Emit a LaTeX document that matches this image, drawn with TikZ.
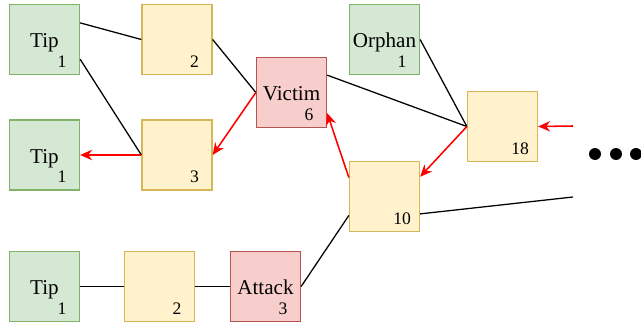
\documentclass[tikz,border=0pt]{standalone}
\usepackage{fontspec}
\setmainfont{Liberation Serif}
\usetikzlibrary{arrows.meta}
\definecolor{tipfill}{HTML}{D5E8D4}
\definecolor{tipline}{HTML}{82B366}
\definecolor{hopfill}{HTML}{FFF2CC}
\definecolor{hopline}{HTML}{D6B656}
\definecolor{badfill}{HTML}{F8CECC}
\definecolor{badline}{HTML}{B85450}

\begin{document}
\begin{tikzpicture}[x=0.025cm,y=-0.025cm,
  blk/.style={rectangle,draw,line width=0.9pt,minimum size=1.75cm,inner sep=0pt,text height=12pt,text depth=0pt,font=\rmfamily\fontsize{15}{17}\selectfont},
  tip/.style={blk,fill=tipfill,draw=tipline},
  hop/.style={blk,fill=hopfill,draw=hopline},
  bad/.style={blk,fill=badfill,draw=badline},
  num/.style={label={[anchor=center,label distance=0pt,xshift=-0.45cm,yshift=0.34cm,text height=,text depth=,font=\rmfamily\fontsize{12.5}{14}\selectfont]south east:#1}},
  link/.style={line width=0.9pt},
  bad link/.style={line width=1.1pt,red,-{Stealth[length=3mm,width=2.6mm]}}]
  \useasboundingbox (0,0) rectangle (641,329);

  \node[tip,num=1] (tipA) at (44.5,39.5) {Tip};
  \node[hop,num=2] (hopA) at (177,39.5) {};
  \node[tip,num=1] (tipB) at (44.5,155) {Tip};
  \node[hop,num=3] (hopB) at (177,155) {};
  \node[bad,num=6] (victim) at (291.5,92.5) {Victim};
  \node[tip,num=1] (orphan) at (384.5,39.5) {Orphan};
  \node[hop,num=18] (hopC) at (502.5,126.5) {};
  \node[hop,num=10] (hopD) at (384.5,196.5) {};
  \node[tip,num=1] (tipC) at (44.5,286.5) {Tip};
  \node[hop,num=2] (hopE) at (159.5,286.5) {};
  \node[bad,num=3] (attack) at (265.5,286.5) {Attack};

  \coordinate (inC) at (573,126);
  \coordinate (outD) at (573,197);

  \draw[link] (tipA.25) -- (hopA.west);
  \draw[link] (tipA.-29) -- (hopB.west);
  \draw[link] (hopA.east) -- (victim.west);
  \draw[link] (victim.26) -- (hopC.west);
  \draw[link] (orphan.east) -- (hopC.west);
  \draw[link] (hopD.-152) -- (attack.east);
  \draw[link] (hopD.-26) -- (outD);
  \draw[link] (tipC.east) -- (hopE.west);
  \draw[link] (hopE.east) -- (attack.west);

  \draw[bad link] (victim.west) -- (hopB.east);
  \draw[bad link] (hopB.west) -- (tipB.east);
  \draw[bad link] (hopC.west) -- (hopD.29);
  \draw[bad link] (hopD.152) -- (victim.-30);
  \draw[bad link] (inC) -- (hopC.east);

  \fill (595,154) circle (6) (616,154) circle (6) (636,154) circle (6);
\end{tikzpicture}
\end{document}
